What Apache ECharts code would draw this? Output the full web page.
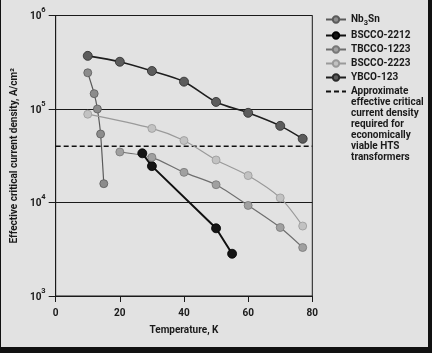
<!DOCTYPE html>
<html>
<head>
<meta charset="utf-8">
<script src="https://cdn.jsdelivr.net/npm/echarts@6/dist/echarts.min.js"></script>
<style>
  html, body { margin: 0; padding: 0; background: #111; width: 432px; height: 353px; overflow: hidden; }
  #chart { position: absolute; left: 1px; top: 0; width: 427px; height: 347px; background: #e2e2e2; }
</style>
</head>
<body>
<div id="chart"></div>
<script>
// ---- data ----
const xTicks = [0, 20, 40, 60, 80];
const yTicks = [1e3, 1e4, 1e5, 1e6];

const nb3snT = [10, 12, 13, 14, 15];
const nb3snJc = [2.44e5, 1.46e5, 1.0e5, 5.4e4, 1.59e4];

const bscco2212T = [27, 30, 50, 55];
const bscco2212Jc = [3.36e4, 2.45e4, 5.3e3, 2.83e3];

const tbcco1223T = [20, 30, 40, 50, 60, 70, 77];
const tbcco1223Jc = [3.47e4, 3.04e4, 2.1e4, 1.55e4, 9.3e3, 5.4e3, 3.3e3];

const bscco2223T = [10, 30, 40, 50, 60, 70, 77];
const bscco2223Jc = [8.8e4, 6.2e4, 4.6e4, 2.85e4, 1.94e4, 1.12e4, 5.6e3];

const ybcoT = [10, 20, 30, 40, 50, 60, 70, 77];
const ybcoJc = [3.7e5, 3.2e5, 2.55e5, 1.96e5, 1.19e5, 9.1e4, 6.6e4, 4.8e4];

const thresholdT = [0, 80];
const thresholdJc = [4.0e4, 4.0e4];

const seriesNames = ['Nb3Sn', 'BSCCO-2212', 'TBCCO-1223', 'BSCCO-2223', 'YBCO-123'];
const thresholdName = 'Approximate effective critical current density required for economically viable HTS transformers';
const thresholdLines = ['Approximate', 'effective critical', 'current density', 'required for', 'economically', 'viable HTS', 'transformers'];

const zip = (xs, ys) => xs.map((x, i) => [x, ys[i]]);

const FONT = "Roboto, 'Noto Sans', sans-serif";
const TXT = '#1a1a1a';
const FS = 10;

function pointSeries(name, xs, ys, pointColor, borderColor, lineColor, lineWidth, size, smooth) {
  return {
    name: name,
    type: 'line',
    data: zip(xs, ys),
    smooth: smooth,
    symbol: 'circle',
    symbolSize: size,
    lineStyle: { color: lineColor, width: lineWidth },
    itemStyle: { color: pointColor, borderColor: borderColor, borderWidth: 0.8 },
    emphasis: { disabled: true }
  };
}

const chart = echarts.init(document.getElementById('chart'), null, { renderer: 'canvas' });

const option = {
  animation: false,
  backgroundColor: '#e2e2e2',
  textStyle: { fontFamily: FONT },
  grid: {
    left: 53, right: 115.7, top: 15.5, bottom: 51,
    show: true, borderColor: '#1a1a1a', borderWidth: 1, backgroundColor: 'transparent'
  },
  legend: {
    orient: 'vertical',
    left: 324, top: 14,
    padding: 0,
    itemGap: 3,
    itemWidth: 20,
    itemHeight: 8,
    selectedMode: false,
    data: seriesNames.map(n => ({ name: n })).concat([
      { name: thresholdName, textStyle: { padding: [0, 0, -66, 0] } }
    ]),
    formatter: function (name) {
      if (name === 'Nb3Sn') return '{t|Nb}{s|3}{t|Sn}';
      if (name === thresholdName) return thresholdLines.join('\n');
      return name;
    },
    textStyle: {
      fontFamily: FONT, fontWeight: 'bold', fontSize: FS, color: TXT, lineHeight: 11,
      rich: {
        t: { fontFamily: FONT, fontWeight: 'bold', fontSize: FS, color: TXT, lineHeight: 11 },
        s: { fontFamily: FONT, fontWeight: 'bold', fontSize: 7.5, color: TXT, lineHeight: 11, verticalAlign: 'bottom', padding: [0, 0, -2, 0] }
      }
    }
  },
  xAxis: {
    type: 'value',
    min: xTicks[0], max: xTicks[xTicks.length - 1], interval: xTicks[1] - xTicks[0],
    name: 'Temperature, K',
    nameLocation: 'middle',
    nameGap: 29,
    nameTextStyle: { fontFamily: FONT, fontWeight: 'bold', fontSize: FS, color: TXT },
    axisLine: { lineStyle: { color: '#1a1a1a', width: 1 } },
    axisTick: { show: true, length: 6, lineStyle: { color: '#1a1a1a' } },
    axisLabel: { margin: 12, fontFamily: FONT, fontWeight: 'bold', fontSize: FS, color: TXT },
    splitLine: { show: false }
  },
  yAxis: {
    type: 'log',
    logBase: 10,
    min: yTicks[0], max: yTicks[yTicks.length - 1],
    name: 'Effective critical current density, A/cm²',
    nameLocation: 'middle',
    nameGap: 34,
    nameRotate: 90,
    nameTextStyle: { fontFamily: FONT, fontWeight: 'bold', fontSize: FS, color: TXT },
    axisLine: { show: true, lineStyle: { color: '#1a1a1a', width: 1 } },
    axisTick: { show: true, length: 7, lineStyle: { color: '#1a1a1a' } },
    axisLabel: {
      margin: 10,
      formatter: function (v) { return '{b|10}{p|' + Math.round(Math.log10(v)) + '}'; },
      rich: {
        b: { fontFamily: FONT, fontWeight: 'bold', fontSize: FS, color: TXT, lineHeight: 12, verticalAlign: 'bottom' },
        p: { fontFamily: FONT, fontWeight: 'bold', fontSize: 7.5, color: TXT, lineHeight: 12, verticalAlign: 'top', padding: [-3, 0, 0, 0] }
      }
    },
    splitLine: { show: true, lineStyle: { color: '#1a1a1a', width: 1 } }
  },
  series: [
    pointSeries(seriesNames[0], nb3snT, nb3snJc, '#8c8c8c', '#5a5a5a', '#5a5a5a', 1.2, 8, 0.2),
    pointSeries(seriesNames[1], bscco2212T, bscco2212Jc, '#141414', '#000', '#111', 2, 9, false),
    pointSeries(seriesNames[2], tbcco1223T, tbcco1223Jc, '#a0a0a0', '#777', '#6e6e6e', 1.2, 8, 0.25),
    pointSeries(seriesNames[3], bscco2223T, bscco2223Jc, '#c2c2c2', '#999', '#9a9a9a', 1.2, 8, 0.3),
    pointSeries(seriesNames[4], ybcoT, ybcoJc, '#5c5c5c', '#2a2a2a', '#1e1e1e', 1.6, 9, 0.3),
    {
      name: thresholdName,
      type: 'line',
      data: zip(thresholdT, thresholdJc),
      symbol: 'none',
      itemStyle: { color: 'rgba(0,0,0,0)', borderWidth: 0 },
      lineStyle: { color: '#111', width: 1.6, type: [5, 3] },
      emphasis: { disabled: true },
      z: 1
    }
  ]
};

chart.setOption(option);
</script>
</body>
</html>
